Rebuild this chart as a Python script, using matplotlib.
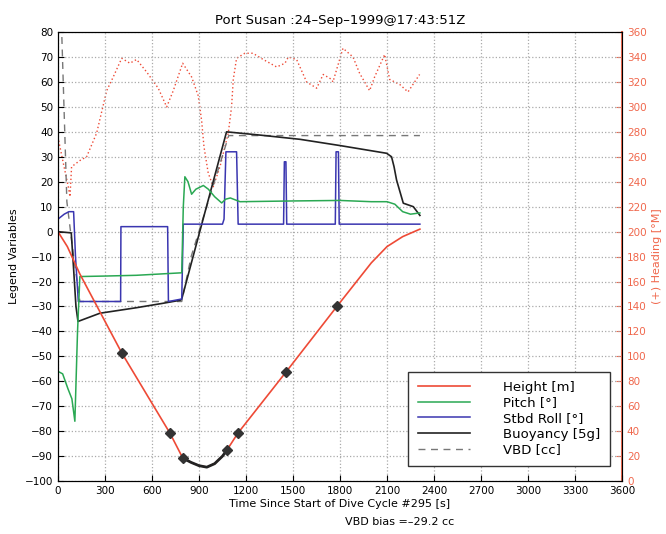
import matplotlib
matplotlib.use('Agg')
import matplotlib.pyplot as plt
import numpy as np

RED = '#ee4a36'
AX_RED = '#f0674c'
GREEN = '#2aa853'
BLUE = '#3a36b0'

# height [m]
t_height = [0, 60, 140, 408, 715, 797, 850, 900, 950, 1000, 1050, 1078,
            1148, 1455, 1780, 2000, 2100, 2200, 2310]
height = [0, -6, -17, -48.7, -80.8, -90.8, -92.5, -93.8, -94.4, -93, -90,
          -87.6, -80.8, -56.3, -30, -12.5, -6, -2, 1]
# event markers along the height trace
t_mark = [408, 715, 797, 1078, 1148, 1455, 1780]
h_mark = [-48.7, -80.8, -90.8, -87.6, -80.8, -56.3, -30]

# pitch [deg]
t_pitch = [0, 30, 64, 89, 108, 125, 140, 300, 500, 790, 800, 810, 830, 853,
           880, 928, 960, 1000, 1045, 1070, 1100, 1162, 1500, 1800, 2000,
           2100, 2150, 2200, 2250, 2310]
pitch = [-56, -57, -63, -67, -76, -40, -18, -17.8, -17.5, -16.5, 10, 22, 20,
         15, 17, 18.5, 17, 14, 11.5, 13, 13.5, 12, 12.3, 12.5, 12, 12, 11,
         8, 7, 7.5]

# starboard roll [deg]
t_roll = [0, 40, 70, 100, 112, 130, 400, 402, 700, 705, 790, 800, 1050,
          1060, 1072, 1140, 1150, 1440, 1445, 1455, 1460, 1770, 1775, 1790,
          1795, 2310]
roll = [5, 7, 8, 8, -10, -28, -28, 2, 2, -28, -27, 3, 3, 5, 32, 32, 3, 3,
        28, 28, 3, 3, 32, 32, 3, 3]

# buoyancy [5g]
t_buoy = [0, 85, 100, 115, 128, 268, 500, 672, 780, 790, 905, 1076, 1289,
          1545, 1800, 2098, 2129, 2145, 2161, 2204, 2268, 2310]
buoy = [0, -0.5, -15, -30, -36, -32.7, -30.5, -28.7, -27.5, -27, 0, 40,
        38.7, 37, 34.5, 31.4, 30, 26, 20.7, 11.4, 10, 6.5]

# VBD [cc]
t_vbd = [25, 57, 100, 140, 790, 850, 1090, 2310]
vbd = [78, 12, -10, -28, -28, -10, 38.5, 38.5]

# heading [deg M], right axis
t_head = [0, 34, 66, 77, 87, 140, 183, 247, 311, 353, 407, 459, 502, 566,
          640, 694, 736, 796, 853, 895, 917, 932, 959, 991, 1034, 1087,
          1108, 1119, 1140, 1193, 1244, 1310, 1396, 1449, 1470, 1523, 1587,
          1651, 1693, 1747, 1755, 1819, 1883, 1925, 1989, 2021, 2085, 2117,
          2181, 2234, 2308]
heading = [276, 255, 236, 228, 252, 257, 260, 279, 313, 324, 339, 335, 338,
           328, 315, 300, 313, 335, 324, 309, 289, 268, 247, 236, 252, 279,
           300, 322, 339, 343, 343, 338, 332, 335, 340, 338, 320, 315, 326,
           322, 320, 347, 340, 327, 313, 324, 342, 322, 318, 312, 326]

fig = plt.figure(figsize=(6.66, 5.34), dpi=100)
ax = fig.add_axes([0.087, 0.099, 0.847, 0.841])
ax2 = ax.twinx()

ax2.plot(t_head, heading, color=RED, lw=1.0, ls=(0, (1, 1.8)), zorder=1)

ax.plot(t_vbd, vbd, color='#777777', lw=1.0, ls=(0, (5, 4)), label='VBD [cc]')
ax.plot(t_buoy, buoy, color='#222222', lw=1.2, label='Buoyancy [5g]')
ax.plot(t_roll, roll, color=BLUE, lw=1.1, label='Stbd Roll [°]')
ax.plot(t_pitch, pitch, color=GREEN, lw=1.1, label='Pitch [°]')
ax.plot(t_height, height, color=RED, lw=1.2, label='Height [m]')
# bottom of the dive drawn dark
th = np.array(t_height)
hh = np.array(height)
sel = (th >= 797) & (th <= 1078)
ax.plot(th[sel], hh[sel], color='#222222', lw=2.0)
ax.plot(t_mark, h_mark, ls='none', marker='D', ms=5, color='#333333')

ax.set_xlim(0, 3600)
ax.set_ylim(-100, 80)
ax.set_xticks(np.arange(0, 3601, 300))
ax.set_yticks(np.arange(-100, 81, 10))
ax.grid(True, ls=':', color='#aaaaaa', lw=0.9)
ax.tick_params(direction='in', labelsize=7.5, length=4)
ax.set_xlabel('Time Since Start of Dive Cycle #295 [s]', fontsize=8,
              labelpad=2)
ax.set_ylabel('Legend Variables', fontsize=8)
ax.set_title('Port Susan :24\u2013Sep\u20131999@17:43:51Z', fontsize=9.5)

ax2.set_ylim(0, 360)
ax2.set_yticks(np.arange(0, 361, 20))
ax2.tick_params(direction='in', labelsize=7.5, length=4, colors=AX_RED)
ax2.spines['right'].set_color(AX_RED)
ax2.spines['right'].set_linewidth(1.5)
ax2.set_ylabel('(+) Heading [°M]', fontsize=8, color=AX_RED)
ax.set_zorder(ax2.get_zorder() + 1)
ax.patch.set_visible(False)

handles, labels = ax.get_legend_handles_labels()
order = [4, 3, 2, 1, 0]
leg = ax.legend([handles[i] for i in order], [labels[i] for i in order],
                loc='lower right', bbox_to_anchor=(0.99, 0.02),
                fontsize=9.5, handlelength=4, handletextpad=2.5,
                borderpad=0.7, labelspacing=0.2, fancybox=False,
                edgecolor='#333333', framealpha=1)
leg.get_frame().set_linewidth(1.0)

fig.text(0.60, 0.022, 'VBD bias =\u201329.2 cc', fontsize=8, ha='center',
         va='center')

fig.savefig('out.png', dpi=100)
